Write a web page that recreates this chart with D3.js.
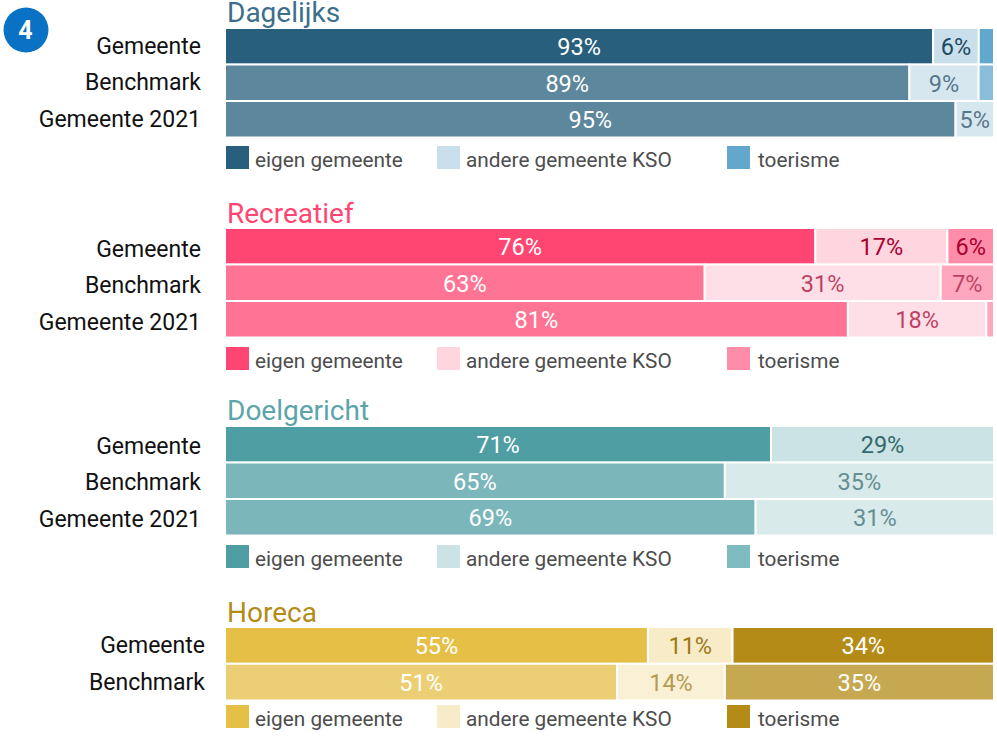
<!DOCTYPE html>
<html>
<head>
<meta charset="utf-8">
<script src="https://cdn.jsdelivr.net/npm/d3@7"></script>
<style>
  html, body { margin: 0; padding: 0; background: #fff; }
  text { font-family: Roboto, sans-serif; }
</style>
</head>
<body>
<div id="chart"></div>
<script>
const seriesNames = ["eigen gemeente", "andere gemeente KSO", "toerisme"]
const seriesKeys = ["eigen", "andere", "toerisme"]
const rowsFull = ["Gemeente", "Benchmark", "Gemeente 2021"]
const rowsShort = ["Gemeente", "Benchmark"]

const eigenDagelijks = [93, 89, 95]
const andereDagelijks = [6, 9, 5]
const toerismeDagelijks = [2, 2, 0]

const eigenRecreatief = [76, 63, 81]
const andereRecreatief = [17, 31, 18]
const toerismeRecreatief = [6, 7, 1]

const eigenDoelgericht = [71, 65, 69]
const andereDoelgericht = [29, 35, 31]
const toerismeDoelgericht = [0, 0, 0]

const eigenHoreca = [55, 51]
const andereHoreca = [11, 14]
const toerismeHoreca = [34, 35]

const coloursDagelijks = ["#285f7c", "#c9dfec", "#62a8cd"]
const coloursRecreatief = ["#ff4672", "#ffd5df", "#ff8ca8"]
const coloursDoelgericht = ["#4e9ea3", "#cbe3e4", "#7fbcc0"]
const coloursHoreca = ["#e6bf47", "#f7ebc8", "#b48b17"]

const width = 997
const height = 742
const barLeft = 225
const barRight = 994

const panels = [
  { title: "Dagelijks", rows: rowsFull, eigen: eigenDagelijks, andere: andereDagelijks, toerisme: toerismeDagelijks,
    colours: coloursDagelijks, titleColour: "#3b6f8c", ink: ["#ffffff", "#1d4a63", "#1d4a63"],
    titleY: 22, barTop: 28, barBottom: 137.5, labelX: 201, labelDy: 0, legendY: 146 },
  { title: "Recreatief", rows: rowsFull, eigen: eigenRecreatief, andere: andereRecreatief, toerisme: toerismeRecreatief,
    colours: coloursRecreatief, titleColour: "#ff4672", ink: ["#ffffff", "#a8002f", "#a8002f"],
    titleY: 223, barTop: 228, barBottom: 337.5, labelX: 201, labelDy: 3, legendY: 347 },
  { title: "Doelgericht", rows: rowsFull, eigen: eigenDoelgericht, andere: andereDoelgericht, toerisme: toerismeDoelgericht,
    colours: coloursDoelgericht, titleColour: "#5ba5aa", ink: ["#ffffff", "#33696d", "#33696d"],
    titleY: 420, barTop: 426, barBottom: 535.5, labelX: 201, labelDy: 2, legendY: 545 },
  { title: "Horeca", rows: rowsShort, eigen: eigenHoreca, andere: andereHoreca, toerisme: toerismeHoreca,
    colours: coloursHoreca, titleColour: "#b48b17", ink: ["#ffffff", "#9c7a14", "#ffffff"],
    titleY: 622, barTop: 627, barBottom: 700.5, labelX: 205, labelDy: 0, legendY: 705 }
]

const legendOffsets = [226, 437, 727]

const svg = d3.select("#chart")
  .append("svg")
  .attr("width", width)
  .attr("height", height)
  .style("display", "block")

// Number badge
svg.append("circle")
  .attr("cx", 26)
  .attr("cy", 30)
  .attr("r", 22.5)
  .attr("fill", "#0a72c4")

svg.append("text")
  .attr("x", 25.5)
  .attr("y", 39)
  .attr("text-anchor", "middle")
  .attr("fill", "#fff")
  .attr("font-size", "25px")
  .attr("font-weight", 700)
  .text("4")

const x = d3.scaleLinear().domain([0, 1]).range([barLeft, barRight])

panels.forEach(panel => {
  const table = panel.rows.map((row, i) => ({
    row,
    eigen: panel.eigen[i],
    andere: panel.andere[i],
    toerisme: panel.toerisme[i]
  }))

  const y = d3.scaleBand()
    .domain(panel.rows)
    .range([panel.barTop, panel.barBottom])
    .paddingInner(0)

  // The printed percentages do not always add up to 100, so the bars are expanded
  const stacked = d3.stack()
    .keys(seriesKeys)
    .offset(d3.stackOffsetExpand)(table)

  const g = svg.append("g")

  svg.append("text")
    .attr("x", 227)
    .attr("y", panel.titleY)
    .attr("fill", panel.titleColour)
    .attr("font-size", "28px")
    .text(panel.title)

  panel.rows.forEach((row, i) => {
    const rowGroup = g.append("g")
      .attr("opacity", i === 0 ? 1 : 0.75)

    stacked.forEach((layer, s) => {
      const d = layer[i]
      const value = table[i][seriesKeys[s]]
      if (value === 0) return

      rowGroup.append("rect")
        .attr("x", x(d[0]))
        .attr("y", y(row))
        .attr("width", x(d[1]) - x(d[0]))
        .attr("height", y.bandwidth())
        .attr("fill", panel.colours[s])
        .attr("stroke", "#fff")
        .attr("stroke-width", 2)

      // Slivers of a few percent stay unlabelled
      if (value >= 3) {
        rowGroup.append("text")
          .attr("x", (x(d[0]) + x(d[1])) / 2)
          .attr("y", y(row) + y.bandwidth() / 2 + 9)
          .attr("text-anchor", "middle")
          .attr("fill", panel.ink[s])
          .attr("font-size", "23.5px")
          .text(value + "%")
      }
    })
  })

  // Row labels
  const axis = svg.append("g")
    .attr("transform", `translate(${panel.labelX},${panel.labelDy})`)
    .call(d3.axisLeft(y).tickSize(0).tickPadding(0))

  axis.select(".domain").remove()
  axis.selectAll("text")
    .attr("fill", "#111")
    .attr("font-size", "23px")
    .attr("font-family", "Roboto, sans-serif")

  // Legend
  seriesNames.forEach((name, s) => {
    svg.append("rect")
      .attr("x", legendOffsets[s])
      .attr("y", panel.legendY)
      .attr("width", 23)
      .attr("height", 23)
      .attr("fill", panel.colours[s])

    svg.append("text")
      .attr("x", legendOffsets[s] + (s === 2 ? 31 : 29))
      .attr("y", panel.legendY + 21)
      .attr("fill", "#4d4d4d")
      .attr("font-size", "20.8px")
      .text(name)
  })
})
</script>
</body>
</html>
